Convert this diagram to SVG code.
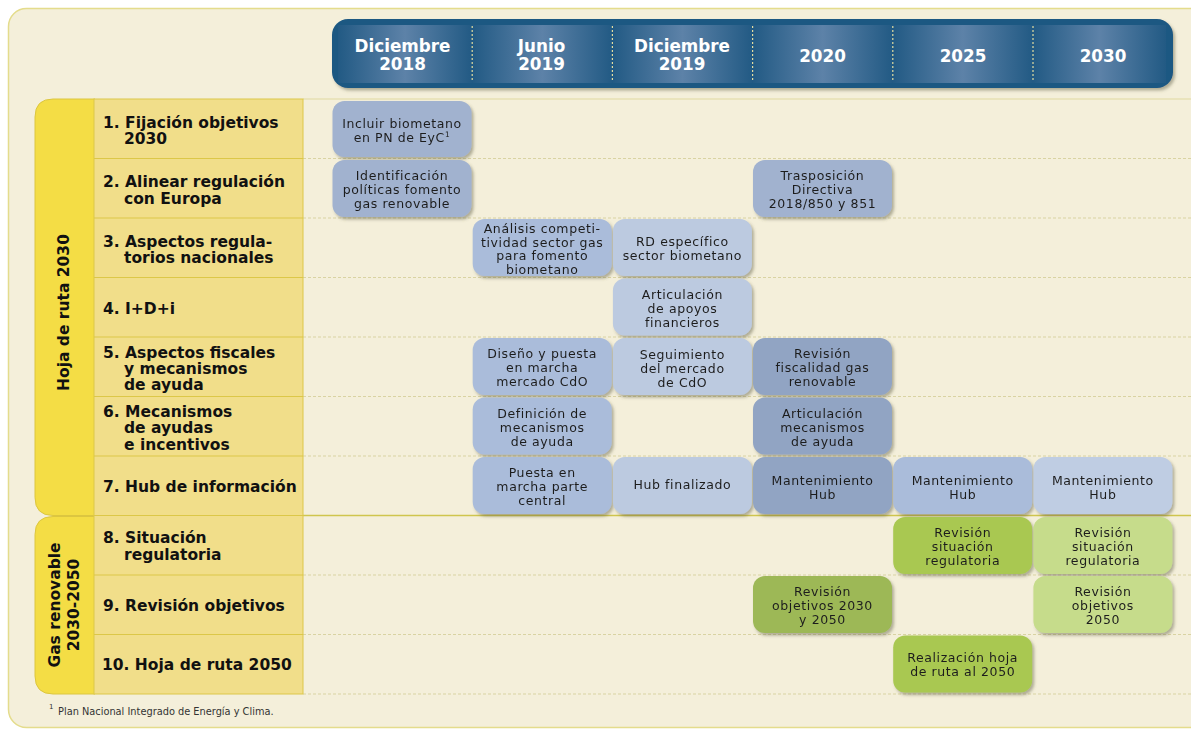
<svg xmlns="http://www.w3.org/2000/svg" width="1191" height="729" viewBox="0 0 1191 729">
<defs>
<style>
.lbl{font-family:"DejaVu Sans",Verdana,sans-serif;font-weight:bold;font-size:15.5px;fill:#111}
.cell{font-family:"DejaVu Sans",Verdana,sans-serif;font-size:12.5px;letter-spacing:0.6px;fill:#1e1e1e;text-anchor:middle}
.hdr{font-family:"DejaVu Sans",Verdana,sans-serif;font-weight:bold;font-size:16.8px;fill:#fff;text-anchor:middle}
.vt{font-family:"DejaVu Sans",Verdana,sans-serif;font-weight:bold;font-size:15.5px;fill:#111;text-anchor:middle}
.dash{stroke:#d9d3a2;stroke-width:1;stroke-dasharray:3 2;fill:none}
.b1{fill:#a1b2cf}.b2{fill:#aabcda}.b3{fill:#bccae0}.b4{fill:#91a4c3}.b6{fill:#bfcde3}
.g1{fill:#a9c851}.g2{fill:#c6dc8b}.g3{fill:#9db857}
.sep{stroke:#e2dca0;stroke-width:1.2;stroke-dasharray:2 2}
</style>
<linearGradient id="colg" x1="0" y1="0" x2="1" y2="0">
<stop offset="0" stop-color="#225a84"/>
<stop offset="0.5" stop-color="#5d82a8"/>
<stop offset="1" stop-color="#225a84"/>
</linearGradient>
<filter id="sh" x="-10%" y="-10%" width="125%" height="130%">
<feDropShadow dx="2" dy="2.5" stdDeviation="1.5" flood-color="#5a5a40" flood-opacity="0.45"/>
</filter>
<clipPath id="barclip"><rect x="332" y="19" width="841" height="69" rx="16"/></clipPath>
</defs>

<rect x="0" y="0" width="1191" height="729" fill="#ffffff"/>
<rect x="8.5" y="8.5" width="1200" height="719" rx="18" fill="#f4efda" stroke="#e4dc8c" stroke-width="1.5"/>

<g id="header">
<rect x="332" y="19" width="841" height="69" rx="16" fill="#1c5882" filter="url(#sh)"/>
<g clip-path="url(#barclip)">
<rect x="338" y="25" width="134" height="58" fill="url(#colg)"/>
<rect x="472.2" y="25" width="140.2" height="58" fill="url(#colg)"/>
<rect x="612.4" y="25" width="140.2" height="58" fill="url(#colg)"/>
<rect x="752.6" y="25" width="140.2" height="58" fill="url(#colg)"/>
<rect x="892.8" y="25" width="140.2" height="58" fill="url(#colg)"/>
<rect x="1033" y="25" width="133" height="58" fill="url(#colg)"/>
</g>
<line class="sep" x1="472.2" y1="26" x2="472.2" y2="82"/>
<line class="sep" x1="612.4" y1="26" x2="612.4" y2="82"/>
<line class="sep" x1="752.6" y1="26" x2="752.6" y2="82"/>
<line class="sep" x1="892.8" y1="26" x2="892.8" y2="82"/>
<line class="sep" x1="1033" y1="26" x2="1033" y2="82"/>
<text class="hdr" x="402.5" y="51.5">Diciembre</text>
<text class="hdr" x="402.5" y="70">2018</text>
<text class="hdr" x="541.5" y="51.5">Junio</text>
<text class="hdr" x="541.5" y="70">2019</text>
<text class="hdr" x="682" y="51.5">Diciembre</text>
<text class="hdr" x="682" y="70">2019</text>
<text class="hdr" x="822.5" y="61.5">2020</text>
<text class="hdr" x="963" y="61.5">2025</text>
<text class="hdr" x="1103" y="61.5">2030</text>
</g>

<g id="gridlines">
<line x1="303" y1="99" x2="1191" y2="99" stroke="#e0d9a0" stroke-width="1"/>
<line class="dash" x1="303" y1="158.5" x2="1191" y2="158.5"/>
<line class="dash" x1="303" y1="218" x2="1191" y2="218"/>
<line class="dash" x1="303" y1="277.5" x2="1191" y2="277.5"/>
<line class="dash" x1="303" y1="337" x2="1191" y2="337"/>
<line class="dash" x1="303" y1="396.5" x2="1191" y2="396.5"/>
<line class="dash" x1="303" y1="456" x2="1191" y2="456"/>
<line class="dash" x1="303" y1="575" x2="1191" y2="575"/>
<line class="dash" x1="303" y1="634.5" x2="1191" y2="634.5"/>
<line class="dash" x1="303" y1="694" x2="1191" y2="694"/>
<line x1="303" y1="515.5" x2="1191" y2="515.5" stroke="#cfc54e" stroke-width="1.5"/>
</g>

<g id="group-hoja2030">
<path d="M95,99 L53,99 Q35,99 35,117 L35,497.5 Q35,515.5 53,515.5 L95,515.5 Z" fill="#f4dd45" stroke="#dcc640" stroke-width="1"/>
<text class="vt" transform="translate(69,312.5) rotate(-90)">Hoja de ruta 2030</text>
</g>
<g id="group-gas2050">
<path d="M95,516.5 L53,516.5 Q35,516.5 35,534.5 L35,676 Q35,694 53,694 L95,694 Z" fill="#f4dd45" stroke="#dcc640" stroke-width="1"/>
<text class="vt" transform="translate(59.5,605) rotate(-90)">Gas renovable</text>
<text class="vt" transform="translate(79,605) rotate(-90)">2030-2050</text>
</g>

<g id="labels">
<rect x="94" y="99" width="209" height="595" fill="#f1de8a" stroke="#dcc748" stroke-width="1"/>
<g stroke="#dcc748" stroke-width="1">
<line x1="94" y1="158.5" x2="303" y2="158.5"/>
<line x1="94" y1="218" x2="303" y2="218"/>
<line x1="94" y1="277.5" x2="303" y2="277.5"/>
<line x1="94" y1="337" x2="303" y2="337"/>
<line x1="94" y1="396.5" x2="303" y2="396.5"/>
<line x1="94" y1="456" x2="303" y2="456"/>
<line x1="94" y1="515.5" x2="303" y2="515.5"/>
<line x1="94" y1="575" x2="303" y2="575"/>
<line x1="94" y1="634.5" x2="303" y2="634.5"/>
</g>
</g>
<g id="label-1"><text class="lbl" x="103" y="127.8">1. Fijación objetivos</text><text class="lbl" x="124" y="144.3">2030</text></g>
<g id="label-2"><text class="lbl" x="103" y="187.3">2. Alinear regulación</text><text class="lbl" x="124" y="203.8">con Europa</text></g>
<g id="label-3"><text class="lbl" x="103" y="246.8">3. Aspectos regula-</text><text class="lbl" x="124" y="263.3">torios nacionales</text></g>
<g id="label-4"><text class="lbl" x="103" y="313.5">4. I+D+i</text></g>
<g id="label-5"><text class="lbl" x="103" y="357.5">5. Aspectos fiscales</text><text class="lbl" x="124" y="373.8">y mecanismos</text><text class="lbl" x="124" y="390.1">de ayuda</text></g>
<g id="label-6"><text class="lbl" x="103" y="417">6. Mecanismos</text><text class="lbl" x="124" y="433.3">de ayudas</text><text class="lbl" x="124" y="449.6">e incentivos</text></g>
<g id="label-7"><text class="lbl" x="103" y="491.5">7. Hub de información</text></g>
<g id="label-8"><text class="lbl" x="103" y="543.3">8. Situación</text><text class="lbl" x="124" y="559.8">regulatoria</text></g>
<g id="label-9"><text class="lbl" x="103" y="610.5">9. Revisión objetivos</text></g>
<g id="label-10"><text class="lbl" x="102" y="670">10. Hoja de ruta 2050</text></g>

<g id="c1-1" filter="url(#sh)"><rect class="b1" x="332.5" y="101" width="139" height="56" rx="12"/>
<text class="cell" x="402" y="127.5">Incluir biometano</text><text class="cell" x="402" y="141.5">en PN de EyC<tspan font-size="7.5" dy="-5">1</tspan></text></g>
<g id="c2-1" filter="url(#sh)"><rect class="b1" x="332.5" y="160" width="139" height="57" rx="12"/>
<text class="cell" x="402" y="180">Identificación</text><text class="cell" x="402" y="194">políticas fomento</text><text class="cell" x="402" y="208">gas renovable</text></g>
<g id="c2-4" filter="url(#sh)"><rect class="b1" x="753" y="160" width="139" height="57" rx="12"/>
<text class="cell" x="822.5" y="180">Trasposición</text><text class="cell" x="822.5" y="194">Directiva</text><text class="cell" x="822.5" y="208">2018/850 y 851</text></g>

<g id="c3-2" filter="url(#sh)"><rect class="b2" x="472.7" y="219" width="139" height="57" rx="12"/>
<text class="cell" x="542.2" y="233">Análisis competi-</text><text class="cell" x="542.2" y="246.5">tividad sector gas</text><text class="cell" x="542.2" y="260">para fomento</text><text class="cell" x="542.2" y="273.5">biometano</text></g>
<g id="c3-3" filter="url(#sh)"><rect class="b3" x="612.9" y="219" width="139" height="57" rx="12"/>
<text class="cell" x="682.4" y="246">RD específico</text><text class="cell" x="682.4" y="260">sector biometano</text></g>

<g id="c4-3" filter="url(#sh)"><rect class="b3" x="612.9" y="278.5" width="139" height="57" rx="12"/>
<text class="cell" x="682.4" y="298.5">Articulación</text><text class="cell" x="682.4" y="312.5">de apoyos</text><text class="cell" x="682.4" y="326.5">financieros</text></g>

<g id="c5-2" filter="url(#sh)"><rect class="b2" x="472.7" y="338" width="139" height="57" rx="12"/>
<text class="cell" x="542.2" y="358">Diseño y puesta</text><text class="cell" x="542.2" y="372">en marcha</text><text class="cell" x="542.2" y="386">mercado CdO</text></g>
<g id="c5-3" filter="url(#sh)"><rect class="b3" x="612.9" y="338" width="139" height="57" rx="12"/>
<text class="cell" x="682.4" y="359">Seguimiento</text><text class="cell" x="682.4" y="373">del mercado</text><text class="cell" x="682.4" y="387">de CdO</text></g>
<g id="c5-4" filter="url(#sh)"><rect class="b4" x="753" y="338" width="139" height="57" rx="12"/>
<text class="cell" x="822.5" y="358">Revisión</text><text class="cell" x="822.5" y="372">fiscalidad gas</text><text class="cell" x="822.5" y="386">renovable</text></g>

<g id="c6-2" filter="url(#sh)"><rect class="b2" x="472.7" y="397.5" width="139" height="57" rx="12"/>
<text class="cell" x="542.2" y="417.5">Definición de</text><text class="cell" x="542.2" y="431.5">mecanismos</text><text class="cell" x="542.2" y="445.5">de ayuda</text></g>
<g id="c6-4" filter="url(#sh)"><rect class="b4" x="753" y="397.5" width="139" height="57" rx="12"/>
<text class="cell" x="822.5" y="417.5">Articulación</text><text class="cell" x="822.5" y="431.5">mecanismos</text><text class="cell" x="822.5" y="445.5">de ayuda</text></g>

<g id="c7-2" filter="url(#sh)"><rect class="b2" x="472.7" y="457" width="139" height="57" rx="12"/>
<text class="cell" x="542.2" y="476.5">Puesta en</text><text class="cell" x="542.2" y="490.5">marcha parte</text><text class="cell" x="542.2" y="504.5">central</text></g>
<g id="c7-3" filter="url(#sh)"><rect class="b3" x="612.9" y="457" width="139" height="57" rx="12"/>
<text class="cell" x="682.4" y="489">Hub finalizado</text></g>
<g id="c7-4" filter="url(#sh)"><rect class="b4" x="753" y="457" width="139" height="57" rx="12"/>
<text class="cell" x="822.5" y="484.5">Mantenimiento</text><text class="cell" x="822.5" y="498.5">Hub</text></g>
<g id="c7-5" filter="url(#sh)"><rect class="b2" x="893.2" y="457" width="139" height="57" rx="12"/>
<text class="cell" x="962.7" y="484.5">Mantenimiento</text><text class="cell" x="962.7" y="498.5">Hub</text></g>
<g id="c7-6" filter="url(#sh)"><rect class="b6" x="1033.4" y="457" width="139" height="57" rx="12"/>
<text class="cell" x="1102.9" y="484.5">Mantenimiento</text><text class="cell" x="1102.9" y="498.5">Hub</text></g>

<g id="c8-5" filter="url(#sh)"><rect class="g1" x="893.2" y="517" width="139" height="57" rx="12"/>
<text class="cell" x="962.7" y="536.5">Revisión</text><text class="cell" x="962.7" y="550.5">situación</text><text class="cell" x="962.7" y="564.5">regulatoria</text></g>
<g id="c8-6" filter="url(#sh)"><rect class="g2" x="1033.4" y="517" width="139" height="57" rx="12"/>
<text class="cell" x="1102.9" y="536.5">Revisión</text><text class="cell" x="1102.9" y="550.5">situación</text><text class="cell" x="1102.9" y="564.5">regulatoria</text></g>

<g id="c9-4" filter="url(#sh)"><rect class="g3" x="753" y="576" width="139" height="57" rx="12"/>
<text class="cell" x="822.5" y="595.5">Revisión</text><text class="cell" x="822.5" y="609.5">objetivos 2030</text><text class="cell" x="822.5" y="623.5">y 2050</text></g>
<g id="c9-6" filter="url(#sh)"><rect class="g2" x="1033.4" y="576" width="139" height="57" rx="12"/>
<text class="cell" x="1102.9" y="595.5">Revisión</text><text class="cell" x="1102.9" y="609.5">objetivos</text><text class="cell" x="1102.9" y="623.5">2050</text></g>

<g id="c10-5" filter="url(#sh)"><rect class="g1" x="893.2" y="635.5" width="139" height="57" rx="12"/>
<text class="cell" x="962.7" y="661.5">Realización hoja</text><text class="cell" x="962.7" y="675.5">de ruta al 2050</text></g>

<g id="connectors"></g>

<g id="footnote">
<text x="49" y="709" font-family="DejaVu Sans, Verdana, sans-serif" font-size="7" fill="#333">1</text>
<text x="58" y="715" font-family="DejaVu Sans, Verdana, sans-serif" font-size="9.8" fill="#333">Plan Nacional Integrado de Energía y Clima.</text>
</g>
</svg>
